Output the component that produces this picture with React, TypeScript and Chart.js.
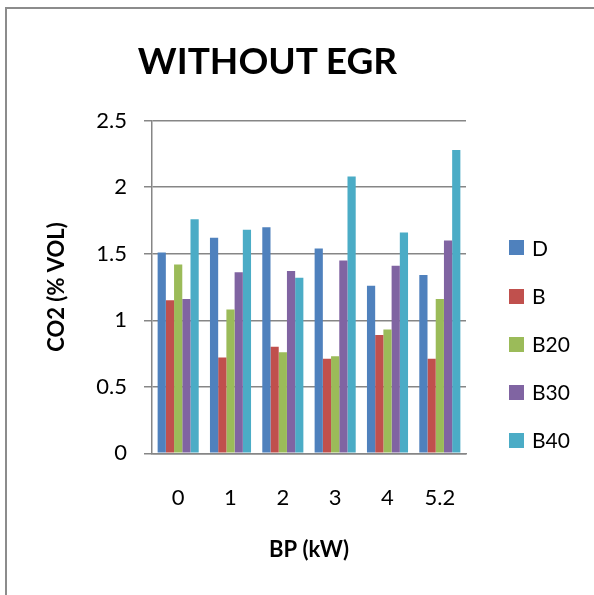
import React, { useEffect, useRef } from "react";
import { Chart, registerables } from "chart.js";

Chart.register(...registerables);

const categories = ["0", "1", "2", "3", "4", "5.2"];
const seriesNames = ["D", "B", "B20", "B30", "B40"];
const dValues = [1.51, 1.62, 1.7, 1.54, 1.26, 1.34];
const bValues = [1.15, 0.72, 0.8, 0.71, 0.89, 0.71];
const b20Values = [1.42, 1.08, 0.76, 0.73, 0.93, 1.16];
const b30Values = [1.16, 1.36, 1.37, 1.45, 1.41, 1.6];
const b40Values = [1.76, 1.68, 1.32, 2.08, 1.66, 2.28];
const seriesColors = ["#4F81BD", "#C0504D", "#9BBB59", "#8064A2", "#4BACC6"];
const titleText = "WITHOUT EGR";
const yTitle = "CO2 (% VOL)";
const xTitle = "BP (kW)";

const FONT = "Lato, 'Open Sans', sans-serif";
const W = 594;
const H = 595;

export default function App() {
  const ref = useRef<HTMLCanvasElement | null>(null);

  useEffect(() => {
    if (!ref.current) return;
    const values = [dValues, bValues, b20Values, b30Values, b40Values];
    const chart = new Chart(ref.current, {
      type: "bar",
      data: {
        labels: categories,
        datasets: seriesNames.map((name, i) => ({
          label: name,
          data: values[i],
          backgroundColor: seriesColors[i],
          borderWidth: 0,
          categoryPercentage: 0.785,
          barPercentage: 1,
        })),
      },
      options: {
        animation: false,
        responsive: false,
        maintainAspectRatio: false,
        layout: { padding: { top: 120.7, right: 128, bottom: 0, left: 0 } },
        plugins: {
          legend: { display: false },
          title: { display: false },
          tooltip: { enabled: false },
        },
        scales: {
          x: {
            grid: { display: false, drawTicks: false },
            border: { display: true, color: "#868686", width: 1.5 },
            ticks: {
              color: "#000",
              font: { family: FONT, size: 22 },
              padding: 31,
            },
            title: {
              display: true,
              text: xTitle,
              color: "#000",
              font: { family: FONT, size: 22, weight: "bold" },
              padding: { top: 0, bottom: 32 },
            },
            afterFit: (s: any) => {
              s.height = H - 453.3;
            },
          },
          y: {
            min: 0,
            max: 2.5,
            ticks: {
              stepSize: 0.5,
              color: "#000",
              font: { family: FONT, size: 22 },
              padding: 17,
              callback: (v: any) => String(Number(v)),
            },
            grid: { color: "#868686", lineWidth: 1.5, tickLength: 8, drawTicks: true },
            border: { display: true, color: "#868686", width: 1.5 },
            title: {
              display: true,
              text: yTitle,
              color: "#000",
              font: { family: FONT, size: 22, weight: "bold" },
              padding: { top: 44, bottom: 0 },
            },
            afterFit: (s: any) => {
              s.width = 152;
            },
          },
        },
      },
    });
    return () => chart.destroy();
  }, []);

  const legendYs = [247.7, 296, 344, 392.3, 440];

  return (
    <div style={{ position: "absolute", left: 0, top: 0, width: W, height: H, overflow: "hidden", background: "#fff" }}>
      <div
        style={{
          position: "absolute",
          left: 5,
          top: 7,
          width: 800,
          height: 800,
          borderLeft: "2px solid #8c8c8c",
          borderTop: "2px solid #8c8c8c",
        }}
      />
      <canvas ref={ref} width={W} height={H} style={{ position: "absolute", left: 0, top: 0, width: W, height: H }} />
      <div
        style={{
          position: "absolute",
          left: 0,
          width: 535,
          top: 60 - 25,
          height: 50,
          lineHeight: "50px",
          textAlign: "center",
          fontFamily: FONT,
          fontWeight: "bold",
          fontSize: 37,
          color: "#000",
        }}
      >
        {titleText}
      </div>
      {seriesNames.map((name, i) => (
        <div key={name}>
          <div
            style={{
              position: "absolute",
              left: 509,
              top: legendYs[i] - 7.5,
              width: 15,
              height: 15,
              background: seriesColors[i],
            }}
          />
          <div
            style={{
              position: "absolute",
              left: 532,
              top: legendYs[i] - 15,
              height: 30,
              lineHeight: "30px",
              fontFamily: FONT,
              fontSize: 21,
              color: "#000",
              whiteSpace: "nowrap",
            }}
          >
            {name}
          </div>
        </div>
      ))}
    </div>
  );
}
